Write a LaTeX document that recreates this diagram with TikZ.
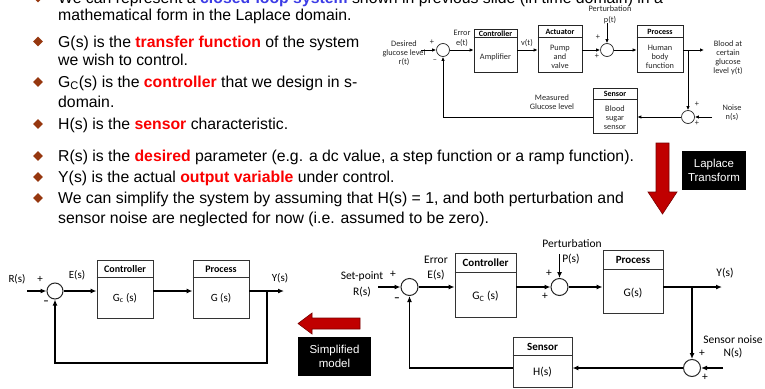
\documentclass[tikz,border=0pt]{standalone}
\usepackage{fontspec}
\setmainfont{Liberation Sans}
\newfontfamily\calib{Carlito}
\usetikzlibrary{arrows.meta,shapes.geometric}
\definecolor{bulletcol}{RGB}{150,55,15}
\definecolor{hired}{RGB}{250,0,0}
\definecolor{hiblue}{RGB}{60,60,230}
\definecolor{arrred}{RGB}{192,0,0}
\definecolor{arrdark}{RGB}{120,0,0}
\newcommand\redb[1]{\textcolor{hired}{\textbf{#1}}}
\begin{document}
\begin{tikzpicture}[x=1pt,y=-1pt,
  main/.style={anchor=base west, inner sep=0pt, font=\fontsize{15.8}{18}\selectfont},
  bul/.style={diamond, fill=bulletcol, inner sep=0pt, minimum width=10pt, minimum height=10pt},
  tsmall/.style={font=\calib\fontsize{8.3}{9}\selectfont, inner sep=0pt, align=center, text=black!85},
  thead/.style={font=\calib\bfseries\fontsize{8}{9}\selectfont, inner sep=0pt},
  tbox/.style={draw=black!85, line width=0.7pt, inner sep=0pt},
  tsum/.style={circle, draw=black!85, line width=0.7pt, minimum size=13pt, inner sep=0pt},
  tarr/.style={-{Latex[length=4pt,width=3.5pt]}, line width=0.8pt},
  tline/.style={line width=0.7pt, draw=black!85},
  atext/.style={font=\calib\fontsize{11}{12.5}\selectfont, inner sep=0pt, align=center},
  ahead/.style={font=\calib\bfseries\fontsize{10}{11}\selectfont, inner sep=0pt},
  btext/.style={font=\calib\fontsize{11.5}{13}\selectfont, inner sep=0pt, align=center},
  bhead/.style={font=\calib\bfseries\fontsize{11}{12}\selectfont, inner sep=0pt},
  bbox/.style={draw=black!80, line width=0.9pt, inner sep=0pt},
  bsum/.style={circle, draw=black!85, line width=1pt, inner sep=0pt},
  barr/.style={-{Latex[length=6pt,width=5pt]}, line width=1.4pt},
  hline/.style={line width=0.9pt, draw=black!80},
  blackbox/.style={fill=black, text=white, inner sep=0pt, align=center, font=\fontsize{11.5}{13.5}\selectfont},
]
\useasboundingbox (0,0) rectangle (765,388);
\clip (0,0) rectangle (765,388);

% ---------------- main text ----------------
\node[bul] (b0) at (38,-2.5) {};
\node[main] (l0) at (58,3) {We can represent a \textcolor{hiblue}{\textbf{closed-loop system}} shown in previous slide (in time domain) in a};
\node[main] (l1) at (58,20.5) {mathematical form in the Laplace domain.};
\node[bul] (b1) at (38,41.5) {};
\node[main] (l2) at (58,47) {G(s) is the \redb{transfer function} of the system};
\node[main] (l3) at (58,65) {we wish to control.};
\node[bul] (b2) at (38,82) {};
\node[main] (l4) at (58,87) {G\textsubscript{C}(s) is the \redb{controller} that we design in s-};
\node[main] (l5) at (58,107) {domain.};
\node[bul] (b3) at (38,124) {};
\node[main] (l6) at (58,129.5) {H(s) is the \redb{sensor} characteristic.};
\node[bul] (b4) at (38,156) {};
\node[main] (l7) at (58,161.5) {R(s) is the \redb{desired} parameter (e.g. a dc value, a step function or a ramp function).};
\node[bul] (b5) at (38,177) {};
\node[main] (l8) at (58,182.5) {Y(s) is the actual \redb{output variable} under control.};
\node[bul] (b6) at (38,198) {};
\node[main] (l9) at (58,203.5) {We can simplify the system by assuming that H(s) = 1, and both perturbation and};
\node[main] (l10) at (58,223.5) {sensor noise are neglected for now (i.e. assumed to be zero).};

% ---------------- top-right diagram ----------------
\node[tbox, minimum width=43pt, minimum height=43pt] (tctl) at (495.5,50.5) {};
\draw[tline] ([yshift=-9pt]tctl.north west) -- ([yshift=-9pt]tctl.north east);
\node[thead] (tctlh) at (495.5,33.8) {Controller};
\node[tsmall] (tctlb) at (495.5,57) {Amplifier};

\node[tbox, minimum width=44pt, minimum height=47pt] (tact) at (560,48.5) {};
\draw[tline] ([yshift=-12.5pt]tact.north west) -- ([yshift=-12.5pt]tact.north east);
\node[thead] (tacth) at (560,31.5) {Actuator};
\node[tsmall] (tactb) at (560,57) {Pump\\and\\valve};

\node[tbox, minimum width=46pt, minimum height=47pt] (tproc) at (660,48.5) {};
\draw[tline] ([yshift=-12.5pt]tproc.north west) -- ([yshift=-12.5pt]tproc.north east);
\node[thead] (tproch) at (660,31.5) {Process};
\node[tsmall] (tprocb) at (660,57) {Human\\body\\function};

\node[tbox, minimum width=44pt, minimum height=45pt] (tsens) at (615,110.5) {};
\draw[tline] ([yshift=-12pt]tsens.north west) -- ([yshift=-12pt]tsens.north east);
\node[thead] (tsensh) at (615,94) {Sensor};
\node[tsmall] (tsensb) at (615,118) {Blood\\sugar\\sensor};

\node[tsum] (tsum1) at (443,50) {};
\node[tsum] (tsum2) at (607,50) {};
\node[tsum] (tsum3) at (688,117) {};

\node[tsmall] (tpert) at (610,9) {Perturbation};
\node[tsmall] (tpt) at (610,20) {p(t)};
\node[tsmall] (tdes) at (404,53.5) {Desired\\glucose level\\r(t)};
\node[tsmall] (tp1) at (432,42) {+};
\node[tsmall] (tm1) at (435,61) {–};
\node[tsmall] (terr) at (462,33) {Error};
\node[tsmall] (tet) at (462,43) {e(t)};
\node[tsmall] (tvt) at (527,43) {v(t)};
\node[tsmall] (tp2) at (598,37.5) {+};
\node[tsmall] (tp3) at (597,56) {+};
\node[tsmall] (tblood) at (728,58) {Blood at\\certain\\glucose\\level y(t)};
\node[tsmall] (tnoise) at (732,112.5) {Noise\\n(s)};
\node[tsmall] (tp4) at (697,104) {+};
\node[tsmall] (tp5) at (697,123) {+};
\node[tsmall] (tmeas) at (552,102.5) {Measured\\Glucose level};

\coordinate (tin) at (421,50);
\coordinate (tpin) at (607,23);
\coordinate (tout) at (704,50);
\coordinate (tbr) at (688,50);
\coordinate (tnin) at (712,117);
\draw[tarr] (tin) -- (tsum1.west);
\draw[tarr] (tsum1.east) -- (tctl.west |- tsum1.east);
\draw[tarr] (tctl.east |- tsum1.east) -- (tact.west |- tsum1.east);
\draw[tarr] (tact.east |- tsum2.west) -- (tsum2.west);
\draw[tarr] (tpin) -- (tsum2.north);
\draw[tarr] (tsum2.east) -- (tproc.west |- tsum2.east);
\draw[tarr] (tproc.east |- tsum2.east) -- (tout);
\draw[tarr] (tbr) -- (tsum3.north);
\draw[tarr] (tnin) -- (tsum3.east);
\draw[tarr] (tsum3.west) -- (tsens.east |- tsum3.west);
\draw[tarr] (tsens.west |- tsum3.west) -| (tsum1.south);

% ---------------- Laplace arrow ----------------
\draw[fill=arrred, draw=arrdark, line width=0.6pt] (656,143) -- (669,143) -- (669,192) -- (677,192) -- (662.5,214) -- (648,192) -- (656,192) -- cycle;
\node[blackbox, minimum width=64pt, minimum height=39pt] (lap) at (714,170.5) {Laplace\\Transform};

% ---------------- bottom-left diagram ----------------
\node[bsum, minimum size=16pt] (asum) at (55,291) {};
\node[bbox, minimum width=56pt, minimum height=58pt] (actl) at (125,289) {};
\draw[hline] ([yshift=-18pt]actl.north west) -- ([yshift=-18pt]actl.north east);
\node[ahead] (actlh) at (125,269) {Controller};
\node[atext] (actlb) at (125,298) {G\textsubscript{c} (s)};
\node[bbox, minimum width=56pt, minimum height=58pt] (aproc) at (221,289) {};
\draw[hline] ([yshift=-18pt]aproc.north west) -- ([yshift=-18pt]aproc.north east);
\node[ahead] (aproch) at (221,269) {Process};
\node[atext] (aprocb) at (221,298) {G (s)};
\node[atext] (ar) at (17,279) {R(s)};
\node[atext] (ap) at (40,279) {+};
\node[atext] (am) at (46,303) {\textbf{–}};
\node[atext] (ae) at (77,275) {E(s)};
\node[atext] (ay) at (280,278) {Y(s)};
\coordinate (ain) at (27,291);
\coordinate (aout) at (284,291);
\coordinate (abr) at (267,291);
\coordinate (afb) at (267,363);
\draw[barr] (ain) -- (asum.west);
\draw[barr] (asum.east) -- (actl.west |- asum.east);
\draw[barr] (actl.east |- asum.east) -- (aproc.west |- asum.east);
\draw[barr] (aproc.east |- asum.east) -- (aout);
\draw[barr] (abr) -- (afb) -| (asum.south);

% ---------------- Simplified model arrow ----------------
\draw[fill=arrred, draw=arrdark, line width=0.6pt] (360,318) -- (312,318) -- (312,313) -- (298,323.5) -- (312,334) -- (312,329) -- (360,329) -- cycle;
\node[blackbox, minimum width=73pt, minimum height=39pt] (simp) at (334.5,356.5) {Simplified\\model};

% ---------------- bottom-right diagram ----------------
\node[bsum, minimum size=17pt] (bsum1) at (409.5,287) {};
\node[bbox, minimum width=61pt, minimum height=64pt] (bctl) at (485.5,285) {};
\draw[hline] ([yshift=-20pt]bctl.north west) -- ([yshift=-20pt]bctl.north east);
\node[bhead] (bctlh) at (485.5,263) {Controller};
\node[btext] (bctlb) at (485.5,296) {G\textsubscript{C} (s)};
\node[bsum, minimum size=17pt] (bsum2) at (559.5,287) {};
\node[bbox, minimum width=60pt, minimum height=63pt] (bproc) at (633,281.5) {};
\draw[hline] ([yshift=-20pt]bproc.north west) -- ([yshift=-20pt]bproc.north east);
\node[bhead] (bproch) at (633,260) {Process};
\node[btext] (bprocb) at (633,293) {G(s)};
\node[bsum, minimum size=17pt] (bsum3) at (692,368) {};
\node[bbox, minimum width=59pt, minimum height=50pt] (bsens) at (542.5,362) {};
\draw[hline] ([yshift=-19pt]bsens.north west) -- ([yshift=-19pt]bsens.north east);
\node[bhead] (bsensh) at (542.5,347) {Sensor};
\node[btext] (bsensb) at (542.5,372) {H(s)};

\node[btext] (bset) at (362,276) {Set-point};
\node[btext] (bp1) at (393,274) {+};
\node[btext] (br) at (362,292) {R(s)};
\node[btext] (bm1) at (397,300) {\textbf{–}};
\node[btext] (berr) at (436,260) {Error};
\node[btext] (be) at (436,275) {E(s)};
\node[btext] (bpert) at (572,244) {Perturbation};
\node[btext] (bps) at (571,259) {P(s)};
\node[btext] (bp2) at (549,273) {+};
\node[btext] (bp3) at (545,296) {+};
\node[btext] (by) at (725,273) {Y(s)};
\node[btext] (bnoise) at (733,340) {Sensor noise};
\node[btext] (bns) at (733,353) {N(s)};
\node[btext] (bp4) at (702,353) {+};
\node[btext] (bp5) at (705,377) {+};

\coordinate (bin) at (378,287);
\coordinate (bpin) at (559.5,254);
\coordinate (bout) at (722,287);
\coordinate (bbr) at (692,287);
\coordinate (bnin) at (723,368);
\draw[barr] (bin) -- (bsum1.west);
\draw[barr] (bsum1.east) -- (bctl.west |- bsum1.east);
\draw[barr] (bctl.east |- bsum2.west) -- (bsum2.west);
\draw[barr] (bpin) -- (bsum2.north);
\draw[barr] (bsum2.east) -- (bproc.west |- bsum2.east);
\draw[barr] (bproc.east |- bsum2.east) -- (bout);
\draw[barr] (bbr) -- (bsum3.north);
\draw[barr] (bnin) -- (bsum3.east);
\draw[barr] (bsum3.west) -- (bsens.east |- bsum3.west);
\draw[barr] (bsens.west |- bsum3.west) -| (bsum1.south);
\end{tikzpicture}
\end{document}
